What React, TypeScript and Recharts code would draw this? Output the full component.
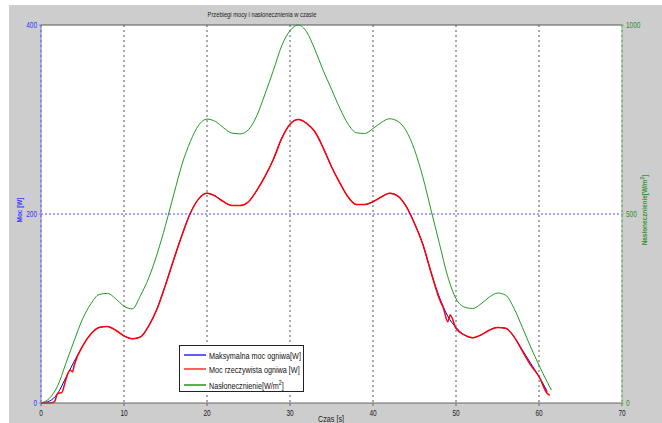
import { LineChart, Line, XAxis, YAxis, CartesianGrid, ReferenceLine } from "recharts";

const title = "Przebiegi mocy i nasłonecznienia w czasie";
const xTicks = [0, 10, 20, 30, 40, 50, 60, 70];
const powerTicks = [0, 200, 400];
const sunTicks = [0, 500, 1000];

// maksymalna moc ogniwa [W]
const maxTime = [0, 1, 2, 3, 4, 5, 6, 7, 8, 9, 10, 11, 12, 13, 14, 15, 16, 17, 18, 19, 20, 21, 22, 23, 24, 25, 26, 27, 28, 29, 30, 31, 32, 33, 34, 35, 36, 37, 38, 39, 40, 41, 42, 43, 44, 45, 46, 47, 48, 49, 50, 51, 52, 53, 54, 55, 56, 57, 58, 59, 60, 61];
const maxPower = [0, 2, 10, 27, 44, 60, 73, 80, 81, 77, 71, 68, 70, 82, 100, 125, 152, 178, 201, 216, 222, 219, 213, 209, 209, 213, 225, 240, 258, 280, 295, 300, 296, 287, 270, 250, 233, 218, 210, 210, 213, 218, 222, 219, 208, 190, 168, 138, 112, 92, 80, 72, 69, 72, 77, 80, 79, 70, 56, 42, 28, 12];

// moc rzeczywista ogniwa [W]
const realTime = [0, 1, 1.6, 2, 2.5, 3, 3.5, 3.8, 4, 5, 6, 7, 8, 9, 10, 11, 12, 13, 14, 15, 16, 17, 18, 19, 20, 21, 22, 23, 24, 25, 26, 27, 28, 29, 30, 31, 32, 33, 34, 35, 36, 37, 38, 39, 40, 41, 42, 43, 44, 45, 46, 47, 48, 48.5, 49, 49.3, 50, 51, 52, 53, 54, 55, 56, 57, 58, 59, 60, 61, 61.3];
const realPower = [0, 0, 1, 10, 11, 25, 35, 33, 40, 60, 73, 80, 81, 77, 71, 68, 70, 82, 100, 125, 152, 178, 201, 216, 222, 219, 213, 209, 209, 213, 225, 240, 258, 280, 295, 300, 296, 287, 270, 250, 233, 218, 210, 210, 213, 218, 222, 219, 208, 190, 168, 138, 110, 100, 86, 93, 79, 72, 69, 72, 77, 80, 79, 70, 55, 40, 28, 10, 8];

// nasłonecznienie [W/m2]
const sunTime = [0, 1, 2, 3, 4, 5, 6, 7, 8, 9, 10, 11, 12, 13, 14, 15, 16, 17, 18, 19, 20, 21, 22, 23, 24, 25, 26, 27, 28, 29, 30, 31, 32, 33, 34, 35, 36, 37, 38, 39, 40, 41, 42, 43, 44, 45, 46, 47, 48, 49, 50, 51, 52, 53, 54, 55, 56, 57, 58, 59, 60, 61, 61.5];
const sun = [0, 12, 45, 105, 165, 222, 262, 287, 290, 276, 256, 249, 285, 332, 395, 470, 552, 632, 692, 735, 751, 745, 728, 714, 712, 723, 760, 818, 880, 945, 985, 1000, 982, 935, 880, 830, 780, 738, 715, 713, 726, 742, 752, 745, 720, 670, 598, 510, 422, 335, 276, 254, 250, 262, 280, 291, 285, 250, 200, 148, 100, 55, 34];

const maxData = maxTime.map((t, i) => ({ t, v: maxPower[i] }));
const realData = realTime.map((t, i) => ({ t, v: realPower[i] }));
const sunData = sunTime.map((t, i) => ({ t, v: sun[i] }));

const font = "'Liberation Sans', Arial, sans-serif";

const legendItems = [
  { color: "#2a2aff", label: <>Maksymalna moc ogniwa[W]</> },
  { color: "#ff2a2a", label: <>Moc rzeczywista ogniwa [W]</> },
  { color: "#1a9a1a", label: <>Nasłonecznienie[W/m<sup style={{ fontSize: 7 }}>2</sup>]</> },
];

// narrow tick text, like the matlab export
function NarrowTick(props: any) {
  const { x, y, payload, fill, anchor, dy } = props;
  const s = String(payload.value);
  return (
    <text
      x={x}
      y={y}
      dy={dy}
      textAnchor={anchor}
      fontSize={9}
      fontFamily={font}
      fill={fill}
      textLength={s.length * 3.6}
      lengthAdjust="spacingAndGlyphs"
    >
      {s}
    </text>
  );
}

function LegendBox() {
  return (
    <div
      style={{
        position: "absolute",
        left: 179,
        top: 345,
        width: 125,
        height: 47,
        background: "#fff",
        border: "1px solid #222",
        fontFamily: font,
        fontSize: 9.5,
        color: "#111",
        paddingTop: 2,
        boxSizing: "border-box",
        overflow: "hidden",
      }}
    >
      {legendItems.map((it, i) => (
        <div key={i} style={{ display: "flex", alignItems: "center", height: 14, marginTop: i === 2 ? 2 : 0 }}>
          <svg width={22} height={4} style={{ marginLeft: 4, marginRight: 3, flexShrink: 0 }}>
            <line x1={0} y1={2} x2={22} y2={2} stroke={it.color} strokeWidth={1.5} />
          </svg>
          <span style={{ display: "inline-block", transform: "scaleX(0.76)", transformOrigin: "left center", whiteSpace: "nowrap" }}>
            {it.label}
          </span>
        </div>
      ))}
    </div>
  );
}

export default function App() {
  return (
    <div style={{ position: "absolute", left: 0, top: 0, width: 662, height: 423, background: "#fff", overflow: "hidden" }}>
      <div style={{ position: "absolute", left: 9, top: 5, width: 653, height: 418, background: "#cdcdcd" }} />
      <div
        style={{
          position: "absolute",
          left: 262,
          top: 10,
          fontFamily: font,
          fontSize: 8,
          color: "#222",
          whiteSpace: "nowrap",
          transform: "translateX(-50%) scaleX(0.72)",
        }}
      >
        {title}
      </div>
      <div
        style={{
          position: "absolute",
          left: 19,
          top: 210,
          transform: "translate(-50%, -50%) rotate(-90deg) scaleX(0.8)",
          fontFamily: font,
          fontSize: 8,
          fontWeight: "bold",
          color: "#3b3bff",
          whiteSpace: "nowrap",
        }}
      >
        Moc [W]
      </div>
      <div
        style={{
          position: "absolute",
          left: 644,
          top: 210,
          transform: "translate(-50%, -50%) rotate(-90deg) scaleX(0.8)",
          fontFamily: font,
          fontSize: 8,
          fontWeight: "bold",
          color: "#2f962f",
          whiteSpace: "nowrap",
        }}
      >
        Nasłonecznienie[W/m<sup style={{ fontSize: 6 }}>2</sup>]
      </div>
      <div
        style={{
          position: "absolute",
          left: 331,
          top: 414,
          fontFamily: font,
          fontSize: 9,
          color: "#222",
          whiteSpace: "nowrap",
          transform: "translateX(-50%) scaleX(0.8)",
        }}
      >
        Czas [s]
      </div>
      <div style={{ position: "absolute", left: 0, top: 0 }}>
        <LineChart width={662} height={423} margin={{ top: 25, right: 0, bottom: 0, left: 0 }}>
          <CartesianGrid yAxisId="left" horizontal={false} stroke="#555" strokeDasharray="2 3" fill="#fff" />
          <XAxis
            dataKey="t"
            type="number"
            domain={[0, 70]}
            ticks={xTicks}
            height={20}
            stroke="#666"
            tickSize={3}
            tick={(p: any) => <NarrowTick {...p} fill="#222" anchor="middle" dy={8} />}
            allowDuplicatedCategory={false}
          />
          <YAxis
            yAxisId="left"
            domain={[0, 400]}
            ticks={powerTicks}
            width={41}
            stroke="#7777ff"
            tickSize={2}
            tick={(p: any) => <NarrowTick {...p} fill="#3333ff" anchor="end" dy={3} />}
          />
          <YAxis
            yAxisId="right"
            orientation="right"
            domain={[0, 1000]}
            ticks={sunTicks}
            width={40}
            stroke="#80c080"
            tickSize={2}
            tick={(p: any) => <NarrowTick {...p} fill="#2f8f2f" anchor="start" dy={3} />}
          />
          <ReferenceLine yAxisId="left" y={200} stroke="#4d4dff" strokeDasharray="2 2" />
          <ReferenceLine yAxisId="left" y={400} stroke="#555" />
          <Line
            yAxisId="right"
            data={sunData}
            dataKey="v"
            type="monotone"
            stroke="#1f9a1f"
            strokeWidth={1}
            dot={false}
            isAnimationActive={false}
          />
          <Line
            yAxisId="left"
            data={maxData}
            dataKey="v"
            type="monotone"
            stroke="#0000ff"
            strokeWidth={1}
            dot={false}
            isAnimationActive={false}
          />
          <Line
            yAxisId="left"
            data={realData}
            dataKey="v"
            type="monotone"
            stroke="#ff0000"
            strokeWidth={1.5}
            dot={false}
            isAnimationActive={false}
          />
        </LineChart>
      </div>
      <LegendBox />
    </div>
  );
}
